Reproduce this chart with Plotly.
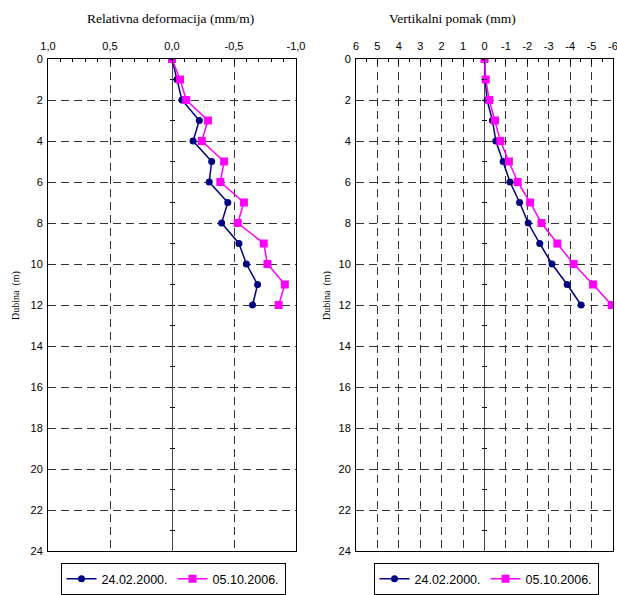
import plotly.graph_objects as go

depth = [0, 1, 2, 3, 4, 5, 6, 7, 8, 9, 10, 11, 12]

# Relativna deformacija (mm/m)
def_2000 = [0.0, -0.04, -0.08, -0.22, -0.17, -0.32, -0.30, -0.45, -0.40, -0.54, -0.60, -0.69, -0.65]
def_2006 = [0.0, -0.065, -0.115, -0.29, -0.24, -0.42, -0.39, -0.58, -0.53, -0.74, -0.77, -0.91, -0.86]

# Vertikalni pomak (mm)
pom_2000 = [0.0, -0.03, -0.12, -0.37, -0.53, -0.87, -1.19, -1.64, -2.04, -2.58, -3.15, -3.86, -4.51]
pom_2006 = [0.0, -0.06, -0.22, -0.49, -0.74, -1.14, -1.55, -2.13, -2.66, -3.40, -4.16, -5.07, -5.94]

series_names = ["24.02.2000.", "05.10.2006."]

left_tickvals = [1.0, 0.5, 0.0, -0.5, -1.0]
left_ticktext = ["1,0", "0,5", "0,0", "-0,5", "-1,0"]
right_tickvals = [6, 5, 4, 3, 2, 1, 0, -1, -2, -3, -4, -5, -6]
right_ticktext = ["6", "5", "4", "3", "2", "1", "0", "-1", "-2", "-3", "-4", "-5", "-6"]
depth_ticks = list(range(0, 25, 2))
depth_ticktext = [str(v) for v in depth_ticks]

NAVY = "#000080"
MAG = "#FF00FF"
SANS = "Liberation Sans"
SERIF = "Liberation Serif"

W, H = 617, 595
xd1 = [48 / W, 296 / W]
xd2 = [356 / W, 613 / W]
yd = [1 - 551 / H, 1 - 59 / H]

fig = go.Figure()

def add_pair(xa, ya, s1, s2, legend):
    fig.add_trace(go.Scatter(x=s1, y=depth, xaxis=xa, yaxis=ya, mode="lines+markers",
                             name=series_names[0], legend=legend,
                             line=dict(color=NAVY, width=1.5),
                             marker=dict(symbol="circle", size=7, color=NAVY)))
    fig.add_trace(go.Scatter(x=s2, y=depth, xaxis=xa, yaxis=ya, mode="lines+markers",
                             name=series_names[1], legend=legend,
                             line=dict(color=MAG, width=1.5),
                             marker=dict(symbol="square", size=8, color=MAG)))

add_pair("x", "y", def_2000, def_2006, "legend")
add_pair("x2", "y2", pom_2000, pom_2006, "legend2")

# helper empty traces for cross ticks on the zero lines
for xa, ya in [("x", "y3"), ("x", "y4"), ("x2", "y5"), ("x2", "y6")]:
    fig.add_trace(go.Scatter(x=[None], y=[None], xaxis=xa, yaxis=ya, showlegend=False,
                             hoverinfo="skip"))

grid = dict(showgrid=True, gridcolor="#333333", griddash="8px,5px", gridwidth=1)
frame = dict(showline=True, linecolor="black", linewidth=1, mirror=True, automargin=False,
             ticklabeloverflow="allow")

fig.update_layout(
    width=W, height=H, margin=dict(l=0, r=0, t=0, b=0, autoexpand=False),
    paper_bgcolor="white", plot_bgcolor="white",
    xaxis=dict(domain=xd1, anchor="y", range=[1, -1], side="top",
               tickvals=left_tickvals, ticktext=left_ticktext,
               ticks="inside", ticklen=5, tickcolor="black",
               minor=dict(ticks="inside", dtick=0.1, ticklen=3, tickcolor="black", showgrid=False),
               zeroline=True, zerolinecolor="#444", zerolinewidth=1,
               tickfont=dict(family=SANS, size=11, color="black"),
               ticklabelstandoff=4, **grid, **frame),
    yaxis=dict(domain=yd, anchor="x", range=[24, 0], tickvals=depth_ticks, ticktext=depth_ticktext,
               ticks="", zeroline=False, ticklabelstandoff=2,
               tickfont=dict(family=SANS, size=11, color="black"), **grid, **frame),
    xaxis2=dict(domain=xd2, anchor="y2", range=[6, -6], side="top",
                tickvals=right_tickvals, ticktext=right_ticktext,
                ticks="inside", ticklen=5, tickcolor="black",
                minor=dict(ticks="inside", dtick=0.5, ticklen=3, tickcolor="black", showgrid=False),
                zeroline=True, zerolinecolor="#444", zerolinewidth=1,
                tickfont=dict(family=SANS, size=11, color="black"),
                ticklabelstandoff=4, **grid, **frame),
    yaxis2=dict(domain=yd, anchor="x2", range=[24, 0], tickvals=depth_ticks, ticktext=depth_ticktext,
                ticks="", zeroline=False, ticklabelstandoff=2,
                tickfont=dict(family=SANS, size=11, color="black"), **grid, **frame),
    legend=dict(orientation="h", x=173 / W, xanchor="center", y=1 - 579 / H, yanchor="middle",
                bordercolor="black", borderwidth=1, bgcolor="white",
                font=dict(family=SANS, size=12.5, color="black"),
                itemwidth=30, tracegroupgap=0),
    legend2=dict(orientation="h", x=486 / W, xanchor="center", y=1 - 579 / H, yanchor="middle",
                 bordercolor="black", borderwidth=1, bgcolor="white",
                 font=dict(family=SANS, size=12.5, color="black"),
                 itemwidth=30, tracegroupgap=0),
    showlegend=True,
)

cross = dict(range=[24, 0], dtick=1, tick0=0, showticklabels=False, showgrid=False,
             showline=False, zeroline=False, ticklen=2, tickcolor="black", side="left",
             automargin=False)
zero_left = (xd1[0] + xd1[1]) / 2
zero_right = 484 / W
fig.update_layout(
    yaxis3=dict(overlaying="y", anchor="free", position=zero_left, ticks="outside", domain=yd, **cross),
    yaxis4=dict(overlaying="y", anchor="free", position=zero_left, ticks="inside", domain=yd, **cross),
    yaxis5=dict(overlaying="y2", anchor="free", position=zero_right, ticks="outside", domain=yd, **cross),
    yaxis6=dict(overlaying="y2", anchor="free", position=zero_right, ticks="inside", domain=yd, **cross),
)

annots = [
    dict(text="Relativna deformacija (mm/m)", x=171 / W, y=1 - 18 / H, size=13.5, angle=0),
    dict(text="Vertikalni pomak (mm)", x=452 / W, y=1 - 18 / H, size=13.5, angle=0),
    dict(text="Dubina  (m)", x=16 / W, y=1 - 296 / H, size=10, angle=-90),
    dict(text="Dubina  (m)", x=327 / W, y=1 - 296 / H, size=10, angle=-90),
]
for a in annots:
    fig.add_annotation(text=a["text"], x=a["x"], y=a["y"], xref="paper", yref="paper",
                       xanchor="center", yanchor="middle", showarrow=False, textangle=a["angle"],
                       font=dict(family=SERIF, size=a["size"], color="black"))

fig.write_html("out.html")
